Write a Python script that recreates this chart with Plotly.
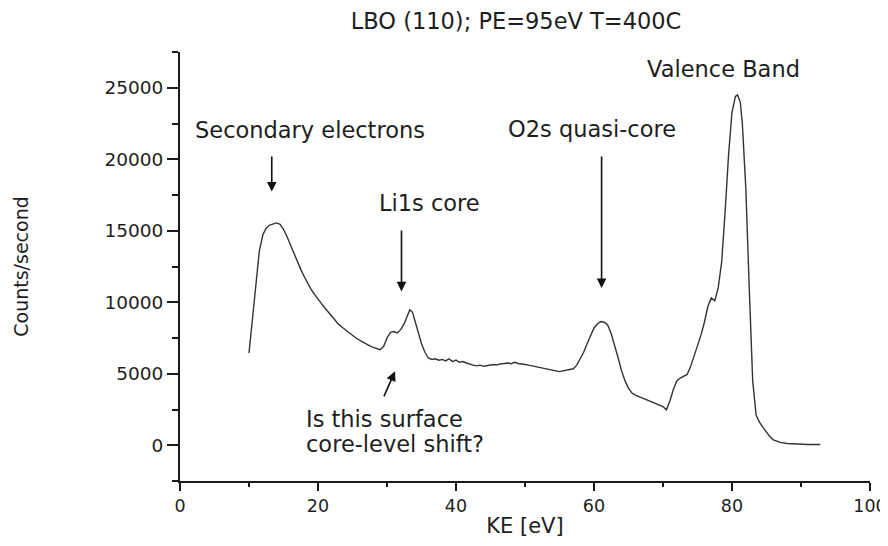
import plotly.graph_objects as go

# Kinetic energy (eV) and counts/second
ke = [10.0, 10.5, 11.0, 11.5, 12.0, 12.5, 13.0, 13.5, 14.0, 14.5, 15.0, 15.5, 16.0, 16.5, 17.0, 17.5,
      18.0, 18.5, 19.0, 19.5, 20.0, 20.5, 21.0, 21.5, 22.0, 22.5, 23.0, 23.5, 24.0, 24.5, 25.0, 25.5,
      26.0, 26.5, 27.0, 27.5, 28.0, 28.5, 29.0, 29.5, 30.0, 30.5, 31.0, 31.5, 32.0, 32.5, 33.0, 33.3,
      33.7, 34.0, 34.5, 35.0, 35.5, 36.0, 36.5, 37.0, 37.5, 38.0, 38.5, 39.0, 39.5, 40.0, 40.5, 41.0,
      41.5, 42.0, 42.5, 43.0, 43.5, 44.0, 44.5, 45.0, 45.5, 46.0, 46.5, 47.0, 47.5, 48.0, 48.5, 49.0,
      49.5, 50.0, 50.5, 51.0, 51.5, 52.0, 52.5, 53.0, 53.5, 54.0, 54.5, 55.0, 55.5, 56.0, 56.5, 57.0,
      57.5, 58.0, 58.5, 59.0, 59.5, 60.0, 60.5, 61.0, 61.5, 62.0, 62.5, 63.0, 63.5, 64.0, 64.5, 65.0,
      65.5, 66.0, 66.5, 67.0, 67.5, 68.0, 68.5, 69.0, 69.5, 70.0, 70.5, 71.0, 71.5, 72.0, 72.5, 73.0,
      73.5, 74.0, 74.5, 75.0, 75.5, 76.0, 76.5, 77.0, 77.5, 78.0, 78.5, 79.0, 79.5, 80.0, 80.5, 80.8,
      81.2, 81.5, 82.0, 82.5, 83.0, 83.5, 84.0, 84.5, 85.0, 85.5, 86.0, 87.0, 88.0, 89.0, 90.0, 91.0,
      92.0, 92.8]
counts = [6450, 9000, 11300, 13600, 14700, 15200, 15400, 15500, 15550, 15450, 15100, 14600, 14000, 13500, 12850, 12300,
          11800, 11300, 10900, 10550, 10200, 9900, 9600, 9300, 9000, 8700, 8450, 8250, 8050, 7850, 7650, 7500,
          7350, 7200, 7050, 6950, 6850, 6750, 6680, 6900, 7500, 7900, 7950, 7850, 8100, 8500, 9200, 9480,
          9300, 8800, 7900, 7100, 6500, 6100, 6000, 6050, 5950, 6000, 5900, 6050, 5850, 5950, 5800, 5850,
          5750, 5650, 5600, 5550, 5600, 5520, 5580, 5600, 5650, 5620, 5700, 5720, 5750, 5700, 5800, 5720,
          5700, 5650, 5600, 5550, 5450, 5400, 5350, 5300, 5250, 5250, 5200, 5150, 5200, 5250, 5300, 5350,
          5600, 6000, 6500, 7100, 7700, 8200, 8500, 8650, 8600, 8400, 7800, 7000, 6100, 5200, 4500, 4000,
          3650, 3500, 3400, 3300, 3200, 3100, 3000, 2950, 2850, 2700, 2480, 3100, 3900, 4500, 4700, 4800,
          4950, 5500, 6200, 6900, 7700, 8600, 9700, 10300, 10100, 11000, 12800, 16300, 20300, 23300, 24400, 24500,
          24000, 22500, 18000, 11000, 4500, 2100, 1600, 1250, 900, 600, 380, 200, 120, 80, 60, 50,
          50, 50]

title_text = "LBO (110); PE=95eV T=400C"
x_title = "KE [eV]"
y_title = "Counts/second"
x_ticks = [0, 20, 40, 60, 80, 100]
y_ticks = [0, 5000, 10000, 15000, 20000, 25000]
y_ticktext = ["0", "5000", "10000", "15000", "20000", "25000"]

FONT = "DejaVu Sans"
TXT = "#1e1e1e"

fig = go.Figure()
fig.add_trace(go.Scatter(x=ke, y=counts, mode="lines",
                         line=dict(color="#333333", width=1.4), showlegend=False,
                         hoverinfo="x+y"))

# text labels
labels = [
    ("Secondary electrons", 18.8, 22050, "center"),
    ("Li1s core", 36.2, 16950, "center"),
    ("O2s quasi-core", 59.7, 22150, "center"),
    ("Valence Band", 78.75, 26310, "center"),
    ("Is this surface", 17.97, 1830, "left"),
    ("core-level shift?", 17.97, 84, "left"),
]
for txt, x, y, anc in labels:
    fig.add_annotation(x=x, y=y, xref="x", yref="y", text=txt, showarrow=False,
                       xanchor=anc, yanchor="middle",
                       font=dict(family=FONT, size=22.5, color=TXT))

# arrows: (head x, head y, tail x, tail y)
arrows = [
    (13.3, 17740, 13.3, 20300),
    (32.1, 10760, 32.1, 15120),
    (61.1, 10990, 61.1, 20300),
    (31.16, 5170, 29.46, 3310),
]
for hx, hy, tx, ty in arrows:
    fig.add_annotation(x=hx, y=hy, ax=tx, ay=ty, xref="x", yref="y", axref="x", ayref="y",
                       text="", showarrow=True, arrowhead=2, arrowsize=1.2, arrowwidth=1.6,
                       arrowcolor="#111111")

# the page adds an 8px body margin, so the figure is drawn smaller and shifted
# (height kept short enough that the page never scrolls)
W, H = 880, 530
fig.update_layout(
    width=W, height=H,
    margin=dict(l=172, r=18, t=44, b=57, autoexpand=False),
    paper_bgcolor="white", plot_bgcolor="white",
    title=dict(text=title_text, x=508 / W, xref="container", xanchor="center",
               y=1 - 13 / H, yref="container", yanchor="middle",
               font=dict(family=FONT, size=22.5, color=TXT)),
    font=dict(family=FONT, color=TXT),
)
fig.update_xaxes(range=[0, 100], tickvals=x_ticks, ticks="outside", ticklen=8, tickwidth=2,
                 tickcolor="#1a1a1a", showline=True, linewidth=2, linecolor="#1a1a1a",
                 showgrid=False, zeroline=False, automargin=False, ticklabeloverflow="allow",
                 minor=dict(dtick=10, tick0=0, ticks="outside", ticklen=4, tickwidth=2,
                            tickcolor="#1a1a1a", showgrid=False),
                 tickfont=dict(family=FONT, size=17.5, color=TXT),
                 title=dict(text=x_title, standoff=13, font=dict(family=FONT, size=21, color=TXT)))
fig.update_yaxes(range=[-2500, 27500], tickvals=y_ticks, ticktext=y_ticktext, ticks="outside",
                 ticklen=11, tickwidth=2,
                 tickcolor="#1a1a1a", showline=True, linewidth=2, linecolor="#1a1a1a",
                 showgrid=False, zeroline=False, automargin=False,
                 minor=dict(dtick=2500, tick0=0, ticks="outside", ticklen=6, tickwidth=2,
                            tickcolor="#1a1a1a", showgrid=False),
                 tickfont=dict(family=FONT, size=18.5, color=TXT),
                 title=dict(text=y_title, standoff=71, font=dict(family=FONT, size=19, color=TXT)))

fig.write_html("out.html")
